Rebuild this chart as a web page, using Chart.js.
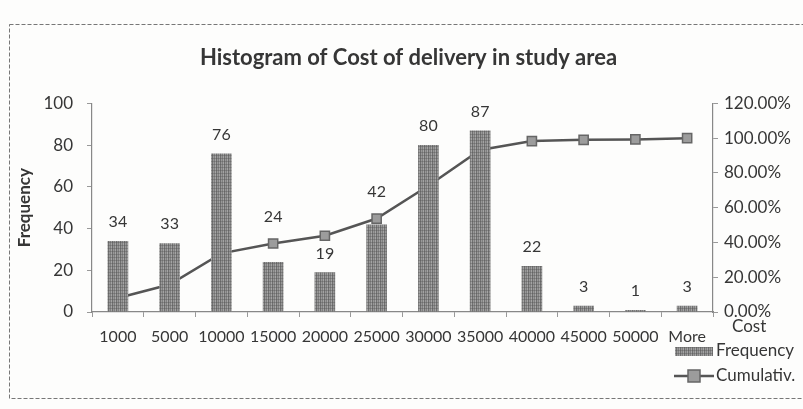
<!DOCTYPE html>
<html>
<head>
<meta charset="utf-8">
<script src="https://cdn.jsdelivr.net/npm/chart.js@4"></script>
<style>
  html, body { margin: 0; padding: 0; background: #fdfdfc; }
  #wrap { width: 803px; height: 409px; position: relative; }
</style>
</head>
<body>
<div id="wrap"><canvas id="c" width="803" height="409"></canvas></div>
<script>
const categories = ['1000','5000','10000','15000','20000','25000','30000','35000','40000','45000','50000','More'];
const frequency = [34, 33, 76, 24, 19, 42, 80, 87, 22, 3, 1, 3];
const cumulative = [0.0802, 0.1580, 0.3373, 0.3939, 0.4387, 0.5377, 0.7264, 0.9316, 0.9835, 0.9906, 0.9929, 1.0];
const freqTicks = { min: 0, max: 100, step: 20 };
const pctTicks = { min: 0, max: 1.2, step: 0.2 };
const titleText = 'Histogram of Cost of delivery in study area';
const xTitle = 'Cost';
const yTitle = 'Frequency';
const legendLabels = ['Frequency', 'Cumulativ.'];

const FONT = 'Lato, "Open Sans", sans-serif';
const TXT = '#363636';

function makePattern() {
  const p = document.createElement('canvas');
  p.width = 4; p.height = 3;
  const g = p.getContext('2d');
  const cols = ['#707070', '#989898', '#808080', '#a4a4a4'];
  for (let i = 0; i < 4; i++) { g.fillStyle = cols[i]; g.fillRect(i, 0, 1, 3); }
  g.fillStyle = 'rgba(80,80,80,0.35)'; g.fillRect(0, 2, 4, 1);
  return document.getElementById('c').getContext('2d').createPattern(p, 'repeat');
}
const barFill = makePattern();

const extras = {
  id: 'extras',
  beforeDraw(chart) {
    const ctx = chart.ctx;
    ctx.save();
    ctx.strokeStyle = '#777';
    ctx.lineWidth = 1;
    ctx.setLineDash([4, 2]);
    ctx.strokeRect(9.5, 24.5, 800, 374);
    ctx.restore();
  },
  afterDatasetsDraw(chart) {
    const ctx = chart.ctx;
    const bars = chart.getDatasetMeta(1).data;
    const pts = chart.getDatasetMeta(0).data;
    ctx.save();
    ctx.font = '16px ' + FONT;
    ctx.fillStyle = TXT;
    ctx.textAlign = 'center';
    ctx.textBaseline = 'middle';
    bars.forEach((el, i) => {
      let y = el.y - 19;
      const p = pts[i];
      if (p && p.y < el.y && Math.abs(p.y - y) < 14) y = p.y - 27;
      ctx.fillText(String(frequency[i]), el.x, y);
    });
    ctx.restore();
  },
  afterDraw(chart) {
    const ctx = chart.ctx;
    ctx.save();
    ctx.fillStyle = TXT;
    ctx.textBaseline = 'middle';
    ctx.textAlign = 'left';
    ctx.font = '17px ' + FONT;
    ctx.fillText(xTitle, 732, 327);
    // legend row 1
    ctx.fillStyle = barFill;
    ctx.fillRect(675, 347, 38, 9);
    ctx.fillStyle = TXT;
    ctx.fillText(legendLabels[0], 716, 351);
    // legend row 2
    ctx.strokeStyle = '#555';
    ctx.lineWidth = 2.5;
    ctx.beginPath(); ctx.moveTo(674, 376); ctx.lineTo(714, 376); ctx.stroke();
    ctx.fillStyle = '#9c9c9c';
    ctx.fillRect(688, 370, 12, 12);
    ctx.strokeStyle = '#666';
    ctx.lineWidth = 1.5;
    ctx.strokeRect(688, 370, 12, 12);
    ctx.fillStyle = TXT;
    ctx.fillText(legendLabels[1], 716, 376);
    ctx.restore();
  }
};

new Chart(document.getElementById('c'), {
  data: {
    labels: categories,
    datasets: [
      {
        type: 'line',
        label: 'Cumulative %',
        data: cumulative,
        yAxisID: 'yPct',
        order: 1,
        borderColor: '#555',
        borderWidth: 2.5,
        pointStyle: 'rect',
        pointRadius: 6.5,
        pointBackgroundColor: '#9c9c9c',
        pointBorderColor: '#666',
        pointBorderWidth: 1.5,
        tension: 0
      },
      {
        type: 'bar',
        label: 'Frequency',
        data: frequency,
        yAxisID: 'y',
        order: 0,
        backgroundColor: barFill,
        borderWidth: 0,
        barPercentage: 0.4,
        categoryPercentage: 1.0
      }
    ]
  },
  options: {
    responsive: false,
    animation: false,
    layout: { padding: { left: 14, right: 0, top: 30, bottom: 40 } },
    plugins: {
      legend: { display: false },
      tooltip: { enabled: false },
      title: {
        display: true,
        text: titleText,
        color: TXT,
        font: { family: FONT, size: 22, weight: 'bold' },
        padding: { top: 15, bottom: 32 }
      }
    },
    scales: {
      x: {
        grid: { display: true, drawOnChartArea: false, drawTicks: true, tickLength: 5, color: '#999', offset: true },
        border: { display: true, color: '#888', width: 1.2 },
        ticks: { color: TXT, font: { family: FONT, size: 16 }, padding: 10, maxRotation: 0, autoSkip: false },
        afterFit(s) { s.height = 57; }
      },
      y: {
        position: 'left',
        min: freqTicks.min, max: freqTicks.max,
        grid: { display: true, drawOnChartArea: false, drawTicks: true, tickLength: 5, color: '#999' },
        border: { display: true, color: '#888', width: 1.2 },
        ticks: { stepSize: freqTicks.step, color: TXT, font: { family: FONT, size: 17 }, padding: 14 },
        title: { display: true, text: yTitle, color: TXT, font: { family: FONT, size: 17, weight: 'bold' }, padding: { top: 0, bottom: 0 } },
        afterFit(s) { s.width = 78; }
      },
      yPct: {
        position: 'right',
        min: pctTicks.min, max: pctTicks.max,
        grid: { display: true, drawOnChartArea: false, drawTicks: true, tickLength: 5, color: '#999' },
        border: { display: true, color: '#888', width: 1.2 },
        ticks: {
          stepSize: pctTicks.step, color: TXT, font: { family: FONT, size: 17 }, padding: 6,
          callback: v => (v * 100).toFixed(2) + '%'
        },
        afterFit(s) { s.width = 90; }
      }
    }
  },
  plugins: [extras]
});
</script>
</body>
</html>
